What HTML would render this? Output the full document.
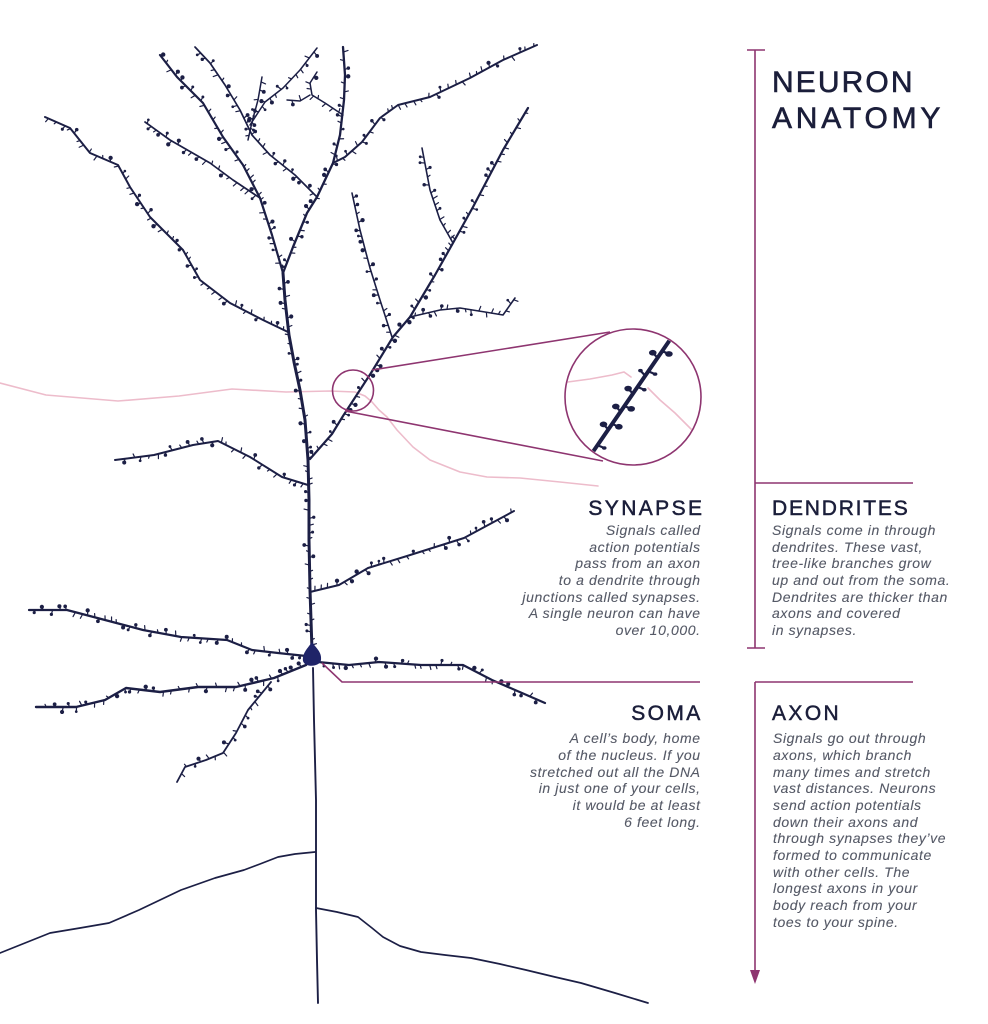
<!DOCTYPE html>
<html><head><meta charset="utf-8">
<style>
html,body{margin:0;padding:0;background:#fff;}
#c{position:relative;width:988px;height:1024px;overflow:hidden;background:#fff;font-family:"Liberation Sans",Arial,sans-serif;}
svg{position:absolute;left:0;top:0;}
.t{position:absolute;left:772px;top:65px;font-size:30px;line-height:36px;color:#1b1e3a;white-space:nowrap;-webkit-text-stroke:0.6px #1b1e3a;}
.h{position:absolute;color:#1b1e3a;font-size:21px;line-height:21px;letter-spacing:2.4px;white-space:nowrap;-webkit-text-stroke:0.5px #1b1e3a;}
.b{position:absolute;color:#555966;font-size:14px;line-height:16.67px;font-style:italic;letter-spacing:0.6px;white-space:nowrap;-webkit-text-stroke:0.1px #555966;}
.r{text-align:right;}
</style></head>
<body><div id="c">
<svg id="s" width="988" height="1024" viewBox="0 0 988 1024" xmlns="http://www.w3.org/2000/svg">
<defs><clipPath id="cc"><circle cx="633" cy="397" r="67"/></clipPath></defs>
<g fill="none" stroke="#edbccb" stroke-width="1.6" stroke-linejoin="round" stroke-linecap="round">
<polyline points="0,383 46,395 118,401 179,396 232,389 286,392 330,391 355,392 365,396 372,402 379,410 387,417 397,430 413,447 430,460 460,472 487,477 520,478 560,482 598,486"/>
</g>
<g id="tree" fill="none" stroke="#1c1f45" stroke-linejoin="round" stroke-linecap="round">
<polyline class="sp" stroke-width="3" points="312,650 311,620 310,590 309,540 309,500 308,460 305,420 300,390 294,362 289,335 285,300 283,273"/>
<polyline class="sp" stroke-width="2.2" points="283,273 272,235 260,198 243,165 223,137 203,103 177,77 160,55"/>
<polyline class="sp" stroke-width="2" points="288,332 263,320 230,303 200,280 183,250 150,217 130,187 118,165 90,153 70,128 45,117"/>
<polyline class="sp" stroke-width="1.7" points="260,198 233,180 210,163 170,140 145,122"/>
<polyline class="sp" stroke-width="2.3" points="283,273 293,247 307,213 317,197 333,163 340,135 344,100 345,75 343,47"/>
<polyline class="sp" stroke-width="1.7" points="317,197 295,175 270,155 252,135 240,110 225,85 210,63 195,47"/>
<polyline class="sp" stroke-width="1.5" points="317,48 300,70 283,88 265,102 250,125"/>
<polyline class="sp" stroke-width="1.5" points="262,77 258,100 252,122 248,140"/>
<polyline class="sp" stroke-width="1.5" points="343,115 325,103 312,95 310,83 317,72"/>
<polyline class="sp" stroke-width="1.4" points="287,100 300,101 310,95"/>
<polyline class="sp" stroke-width="2" points="333,163 345,157 362,142 380,118 398,105 430,97 470,78 503,60 537,45"/>
<polyline class="sp" stroke-width="2.2" points="310,459 332,434 343,416 371,373 393,337 410,317 435,275 453,243 473,207 503,150 528,108"/>
<polyline class="sp" stroke-width="1.6" points="410,317 440,310 460,308 485,312 503,315 515,298"/>
<polyline class="sp" stroke-width="1.6" points="453,243 440,220 430,190 422,148"/>
<polyline class="sp" stroke-width="1.6" points="392,337 380,300 370,268 360,230 352,193"/>
<polyline class="sp" stroke-width="2" points="308,485 282,477 250,457 218,441 193,445 154,455 115,460"/>
<polyline class="sp" stroke-width="2" points="310,592 339,585 368,568 407,556 464,538 514,511"/>
<polyline class="sp" stroke-width="2.2" points="306,656 278,653 252,650 227,640 181,637 143,630 105,620 67,610 29,610"/>
<polyline class="sp" stroke-width="2.4" points="306,665 274,678 236,687 198,687 160,692 126,688 105,700 76,707 36,707"/>
<polyline class="sp" stroke-width="1.8" points="271,682 248,710 236,733 223,753 206,760 185,767 177,782"/>
<polyline class="sp" stroke-width="2.2" points="318,662 349,665 379,662 421,665 463,665 492,680 522,693 545,703"/>
<polyline stroke-width="1.9" points="313,668 314,720 315,760 316,800 316,852 316,910 317,960 318,1003"/>
<polyline stroke-width="1.7" points="315,852 295,854 278,857 260,864 244,870 215,878 181,890 160,900 139,910 109,923 80,928 50,933 25,943 0,953"/>
<polyline stroke-width="1.7" points="316,908 337,912 358,917 372,928 383,937 400,946 421,952 445,955 471,958 500,964 526,970 555,977 581,983 615,993 648,1003"/>
</g>
<path d="M312,642 C316,648 322,652 321,660 C320,667 305,668 303,661 C302,653 308,648 312,642 Z" fill="#1f2468"/>
<g clip-path="url(#cc)">
<g fill="none" stroke="#edbccb" stroke-width="1.6" stroke-linecap="round">
<polyline points="560,383 590,379 612,375 624,372 631,377"/>
<polyline points="648,388 660,400 675,413 692,430"/>
</g>
<g id="big" stroke="#1c1f45" fill="#1c1f45" stroke-linecap="round">
<line x1="588" y1="459" x2="676" y2="331" stroke-width="4"/>
</g>
</g>
<g fill="none" stroke="#8e3570" stroke-width="1.6">
<circle cx="353" cy="390.5" r="20.5"/>
<circle cx="633" cy="397" r="68"/>
<line x1="372" y1="370" x2="610" y2="332"/>
<line x1="345" y1="411" x2="603" y2="461"/>
<line x1="747" y1="50" x2="765" y2="50"/>
<line x1="755" y1="50" x2="755" y2="648"/>
<line x1="747" y1="648" x2="765" y2="648"/>
<line x1="755" y1="483" x2="913" y2="483"/>
<polyline points="322,663 342,682 700,682"/>
<line x1="755" y1="682" x2="913" y2="682"/>
<line x1="755" y1="682" x2="755" y2="973"/>
</g>
<polygon points="750,970 760,970 755,984" fill="#8e3570"/>
</svg>

<div class="t"><span style="letter-spacing:2.1px">NEURON</span><br><span style="letter-spacing:3.8px">ANATOMY</span></div>

<div class="h" style="right:283.6px;top:498px;">SYNAPSE</div>
<div class="b r" style="right:287.4px;top:522px;">Signals called<br>action potentials<br>pass from an axon<br>to a dendrite through<br>junctions called synapses.<br>A single neuron can have<br>over 10,000.</div>

<div class="h" style="left:772px;top:498px;letter-spacing:1.8px;">DENDRITES</div>
<div class="b" style="left:772px;top:522px;">Signals come in through<br>dendrites. These vast,<br>tree-like branches grow<br>up and out from the soma.<br>Dendrites are thicker than<br>axons and covered<br>in synapses.</div>

<div class="h" style="right:285.3px;top:702.5px;">SOMA</div>
<div class="b r" style="right:287.4px;top:730.4px;">A cell’s body, home<br>of the nucleus. If you<br>stretched out all the DNA<br>in just one of your cells,<br>it would be at least<br>6 feet long.</div>

<div class="h" style="left:772px;top:702.5px;">AXON</div>
<div class="b" style="left:773px;top:730.4px;">Signals go out through<br>axons, which branch<br>many times and stretch<br>vast distances. Neurons<br>send action potentials<br>down their axons and<br>through synapses they’ve<br>formed to communicate<br>with other cells. The<br>longest axons in your<br>body reach from your<br>toes to your spine.</div>
</div>
<script>
(function(){
var NS="http://www.w3.org/2000/svg";
var seed=12345;
function rnd(){seed=(seed*16807)%2147483647;return (seed-1)/2147483646;}
var tree=document.getElementById("tree");
var g=document.createElementNS(NS,"g");
g.setAttribute("stroke","#1c1f45");g.setAttribute("fill","#1c1f45");g.setAttribute("stroke-linecap","round");
tree.parentNode.insertBefore(g,tree.nextSibling);
var els=tree.querySelectorAll(".sp");
for(var i=0;i<els.length;i++){
 var el=els[i];var L=el.getTotalLength();
 for(var d=5;d<L-2;d+=5+rnd()*5){
  var p=el.getPointAtLength(d),q=el.getPointAtLength(Math.min(L,d+1));
  var dx=q.x-p.x,dy=q.y-p.y,n=Math.sqrt(dx*dx+dy*dy)||1;dx/=n;dy/=n;
  var side=rnd()<0.5?1:-1;var len=2.5+rnd()*2.5;
  var ex=p.x-dy*side*len+dx*1.2,ey=p.y+dx*side*len+dy*1.2;
  var ln=document.createElementNS(NS,"line");
  ln.setAttribute("x1",p.x);ln.setAttribute("y1",p.y);ln.setAttribute("x2",ex);ln.setAttribute("y2",ey);
  ln.setAttribute("stroke-width","1.2");g.appendChild(ln);
  if(rnd()<0.5){var e=document.createElementNS(NS,"circle");
   e.setAttribute("cx",ex);e.setAttribute("cy",ey);e.setAttribute("r",1.3+rnd()*0.9);e.setAttribute("stroke","none");g.appendChild(e);}
 }
}
var big=document.getElementById("big");
var sp=[[0.06,1,0],[0.2,-1,1],[0.25,1,1],[0.36,-1,1],[0.41,1,1],[0.52,-1,1],[0.58,1,0],[0.68,-1,0],[0.72,1,0],[0.84,-1,1],[0.9,1,1]];
var ux=0.566,uy=-0.824;
for(var k=0;k<sp.length;k++){
 var t=sp[k][0],s=sp[k][1];var bx=593+77*t,by=452-112*t;
 var px=(s<0?-0.824:0.824),py=(s<0?-0.566:0.566);
 var ex2=bx+px*7+ux*1.5,ey2=by+py*7+uy*1.5;
 var l2=document.createElementNS(NS,"line");
 l2.setAttribute("x1",bx);l2.setAttribute("y1",by);l2.setAttribute("x2",ex2);l2.setAttribute("y2",ey2);l2.setAttribute("stroke-width","2.2");big.appendChild(l2);
 var c2=document.createElementNS(NS,"ellipse");
 var r=sp[k][2]?3.8:2.3;
 c2.setAttribute("cx",ex2);c2.setAttribute("cy",ey2);c2.setAttribute("rx",r);c2.setAttribute("ry",r*0.75);c2.setAttribute("stroke","none");big.appendChild(c2);
}
})();
</script>
</body></html>
